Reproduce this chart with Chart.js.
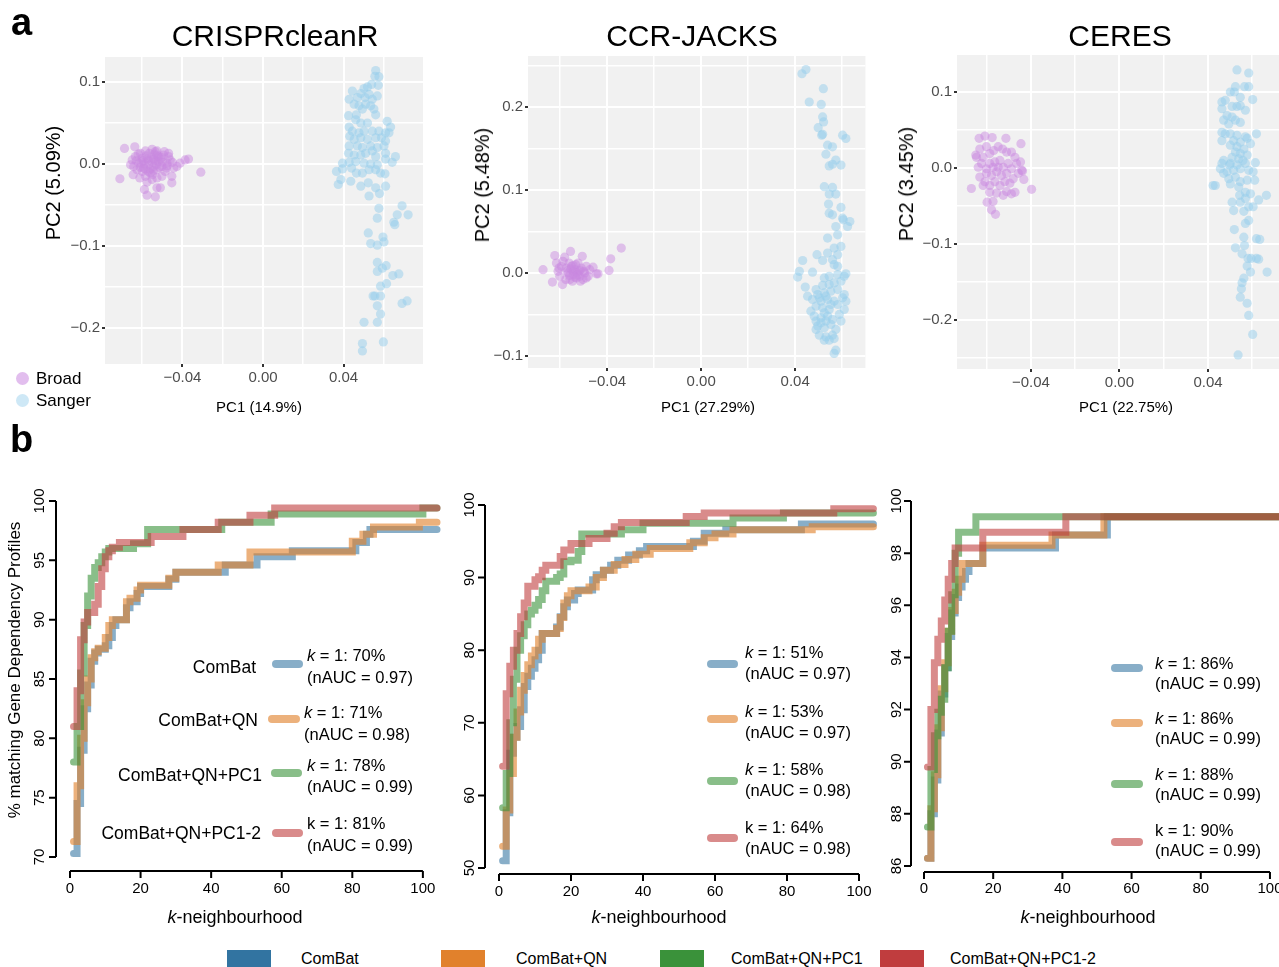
<!DOCTYPE html>
<html>
<head>
<meta charset="utf-8">
<title>PCA and k-neighbourhood matching</title>
<script src="https://cdn.jsdelivr.net/npm/chart.js@4.4.1/dist/chart.umd.min.js"></script>
<style>
  html, body { margin: 0; padding: 0; background: #fff; }
  body { position: relative; width: 1279px; height: 967px; overflow: hidden;
         font-family: "Liberation Sans", Arial, Helvetica, sans-serif; color: #000; }
  canvas { position: absolute; }
  .lbl { position: absolute; white-space: nowrap; line-height: 1; }
  .seg { position: absolute; height: 8px; border-radius: 4px; }
  .box { position: absolute; width: 44px; height: 20px; top: 950px; }
  .dot { position: absolute; width: 13px; height: 13px; border-radius: 50%; }
</style>
</head>
<body>
<canvas id="pcaCrispr" width="430" height="380" style="left:0;top:40px"></canvas>
<canvas id="pcaJacks" width="440" height="380" style="left:430px;top:40px"></canvas>
<canvas id="pcaCeres" width="420" height="380" style="left:870px;top:40px"></canvas>
<canvas id="knnCrispr" width="445" height="450" style="left:0;top:480px"></canvas>
<canvas id="knnJacks" width="440" height="450" style="left:440px;top:480px"></canvas>
<canvas id="knnCeres" width="420" height="450" style="left:870px;top:480px"></canvas>

<script>
// ---- panel a : PCA points (PC1, PC2) ----
var crisprBroad = [[-0.0688,0.019],[-0.0637,0.021],[-0.0711,-0.018],[-0.0309,-0.010],[-0.037,0.006],[-0.0387,0.005],[-0.0412,0.001],[-0.0444,-0.005],[-0.0453,-0.015],[-0.0453,-0.023],[-0.051,-0.029],[-0.0527,-0.029],[-0.0576,-0.038],[-0.0535,-0.040],[-0.0589,-0.031],[-0.0576,-0.022],[-0.0612,-0.017],[-0.0645,-0.013],[-0.0658,-0.001],[-0.065,0.005],[-0.0634,0.009],[-0.0609,0.013],[-0.0584,0.016],[-0.0551,0.018],[-0.0527,0.016],[-0.0494,0.011],[-0.0469,0.009],[-0.0477,0.001],[-0.0502,-0.003],[-0.0527,-0.007],[-0.056,-0.011],[-0.0593,-0.005],[-0.0617,0.001],[-0.0576,0.006],[-0.0543,0.006],[-0.0519,0.003],[-0.0568,-0.001],[-0.0543,-0.003],[-0.0601,0.007],[-0.051,0.006],[-0.0461,0.005],[-0.0428,-0.003],[-0.0486,-0.009],[-0.0527,-0.017],[-0.0551,-0.019],[-0.0502,-0.015],[-0.0626,-0.007],[-0.0642,-0.003],[-0.0584,-0.015],[-0.0469,0.013],[-0.055,0.002],[-0.057,0.004],[-0.053,-0.001],[-0.059,0.000],[-0.056,-0.006],[-0.052,0.009],[-0.05,0.002],[-0.058,0.010],[-0.061,-0.004],[-0.054,0.012],[-0.048,-0.005],[-0.06,-0.009],[-0.055,-0.013],[-0.063,0.004],[-0.049,0.015],[-0.062,0.012],[-0.045,0.002],[-0.057,-0.009],[-0.0535,0.004],[-0.0555,0.008],[-0.0515,-0.004],[-0.0565,0.013],[-0.0525,0.011],[-0.0595,0.004],[-0.0545,-0.008],[-0.0505,0.008],[-0.0585,-0.006],[-0.0475,-0.002],[-0.0605,0.002],[-0.0535,0.015]];
var crisprSanger = [[0.056,0.114],[0.0576,0.1065],[0.0556,0.107],[0.054,0.097],[0.0573,0.096],[0.0519,0.094],[0.0502,0.092],[0.0486,0.086],[0.0444,0.089],[0.0469,0.081],[0.0507,0.081],[0.0527,0.085],[0.0543,0.079],[0.0568,0.083],[0.0428,0.079],[0.0453,0.073],[0.0477,0.071],[0.051,0.073],[0.0535,0.071],[0.0551,0.067],[0.0494,0.067],[0.056,0.060],[0.0425,0.059],[0.0464,0.060],[0.0461,0.054],[0.0486,0.050],[0.0519,0.050],[0.0617,0.052],[0.0634,0.045],[0.0428,0.045],[0.0444,0.040],[0.0477,0.038],[0.0502,0.040],[0.0543,0.040],[0.0576,0.040],[0.0609,0.038],[0.0626,0.038],[0.0431,0.034],[0.0453,0.030],[0.0486,0.032],[0.0519,0.030],[0.056,0.032],[0.0589,0.032],[0.0609,0.028],[0.0428,0.022],[0.0469,0.022],[0.0494,0.020],[0.0535,0.022],[0.0568,0.020],[0.0601,0.022],[0.0425,0.013],[0.0453,0.011],[0.0486,0.011],[0.051,0.013],[0.0543,0.016],[0.056,0.009],[0.0609,0.013],[0.0658,0.009],[0.0395,0.001],[0.0428,0.002],[0.0461,0.003],[0.0502,0.001],[0.0535,0.000],[0.0568,-0.001],[0.0609,0.006],[0.0642,0.002],[0.0365,-0.009],[0.0395,-0.006],[0.044,-0.005],[0.0464,-0.011],[0.0494,-0.011],[0.0527,-0.007],[0.056,-0.007],[0.0584,-0.011],[0.0606,-0.012],[0.0387,-0.019],[0.0436,-0.021],[0.0486,-0.027],[0.0523,-0.023],[0.056,-0.029],[0.0579,-0.036],[0.0609,-0.027],[0.0374,-0.025],[0.0527,-0.039],[0.0576,-0.054],[0.0568,-0.066],[0.0691,-0.051],[0.0721,-0.062],[0.0667,-0.062],[0.065,-0.071],[0.0655,-0.074],[0.0523,-0.084],[0.0535,-0.097],[0.0568,-0.099],[0.0596,-0.089],[0.0601,-0.095],[0.0568,-0.120],[0.0612,-0.124],[0.0593,-0.127],[0.0568,-0.131],[0.0645,-0.136],[0.0675,-0.134],[0.0614,-0.146],[0.0584,-0.149],[0.0547,-0.161],[0.0556,-0.161],[0.0584,-0.161],[0.0568,-0.173],[0.0584,-0.183],[0.0502,-0.193],[0.0568,-0.193],[0.0691,-0.170],[0.0716,-0.167],[0.0598,-0.217],[0.0494,-0.219],[0.0494,-0.228]];

var jacksBroad = [[-0.0673,0.004],[-0.0633,-0.011],[-0.0623,0.021],[-0.0616,0.012],[-0.0609,0.002],[-0.0602,-0.004],[-0.059,-0.014],[-0.0588,0.014],[-0.0581,0.019],[-0.0573,0.006],[-0.0566,0],[-0.0559,-0.008],[-0.0556,0.026],[-0.0552,0.008],[-0.0545,-0.002],[-0.0538,0.004],[-0.0531,-0.006],[-0.0524,0.012],[-0.052,0.002],[-0.0517,-0.004],[-0.051,0.006],[-0.0506,0.020],[-0.0503,-0.008],[-0.0496,0],[-0.0489,0.008],[-0.0481,-0.004],[-0.0474,0.004],[-0.046,0.007],[-0.0446,-0.001],[-0.0439,-0.001],[-0.0392,0.003],[-0.0385,0.017],[-0.034,0.030],[-0.0595,0.008],[-0.0562,0.012],[-0.0534,0.010],[-0.0514,-0.010],[-0.0576,-0.008],[-0.0548,-0.010],[-0.0489,-0.006],[-0.0605,0.006],[-0.0545,0.002],[-0.053,0.000],[-0.056,-0.003],[-0.0515,0.003],[-0.0555,0.005],[-0.0525,-0.002],[-0.0538,-0.005],[-0.057,0.002],[-0.05,0.002],[-0.0545,0.009]];
var jacksSanger = [[0.0429,0.240],[0.0446,0.245],[0.052,0.222],[0.046,0.206],[0.0511,0.203],[0.0517,0.188],[0.0521,0.182],[0.0498,0.175],[0.0517,0.167],[0.0513,0.166],[0.0538,0.154],[0.0559,0.152],[0.0602,0.166],[0.0616,0.162],[0.0531,0.143],[0.0573,0.136],[0.0545,0.129],[0.0559,0.131],[0.0595,0.130],[0.0524,0.104],[0.0559,0.103],[0.0573,0.095],[0.0545,0.095],[0.0542,0.083],[0.0595,0.079],[0.0545,0.072],[0.0559,0.070],[0.0602,0.066],[0.0605,0.064],[0.0633,0.062],[0.0623,0.056],[0.0573,0.056],[0.0538,0.042],[0.0581,0.046],[0.0566,0.030],[0.0595,0.032],[0.0581,0.022],[0.0538,0.024],[0.0493,0.022],[0.0559,0.016],[0.0432,0.015],[0.0517,0.015],[0.0566,0.010],[0.0581,0.008],[0.0418,0.002],[0.0411,-0.005],[0.0474,0.001],[0.0524,-0.006],[0.0545,-0.004],[0.0581,-0.002],[0.0616,-0.001],[0.0609,-0.004],[0.0443,-0.017],[0.0453,-0.028],[0.0489,-0.020],[0.0517,-0.015],[0.0545,-0.014],[0.0566,-0.012],[0.0595,-0.010],[0.0496,-0.026],[0.0524,-0.024],[0.0552,-0.022],[0.0581,-0.020],[0.0609,-0.026],[0.0616,-0.034],[0.0474,-0.032],[0.051,-0.034],[0.0538,-0.032],[0.0566,-0.034],[0.0602,-0.030],[0.0467,-0.046],[0.0489,-0.040],[0.0517,-0.042],[0.0545,-0.044],[0.0581,-0.038],[0.0609,-0.044],[0.0489,-0.058],[0.051,-0.054],[0.0538,-0.052],[0.0559,-0.056],[0.0588,-0.050],[0.0496,-0.064],[0.0524,-0.066],[0.0552,-0.062],[0.0573,-0.068],[0.0503,-0.075],[0.0531,-0.077],[0.0559,-0.075],[0.0524,-0.081],[0.0545,-0.081],[0.0566,-0.079],[0.0573,-0.093],[0.0566,-0.097],[0.051,-0.060],[0.0481,-0.052],[0.0531,-0.058],[0.0489,-0.068],[0.0595,-0.058],[0.0524,-0.048],[0.0552,-0.038],[0.0503,-0.030],[0.0531,-0.028]];

var ceresBroad = [[-0.0669,-0.027],[-0.0649,0.017],[-0.0634,0.039],[-0.0608,0.042],[-0.0575,0.040],[-0.0513,0.039],[-0.0445,0.032],[-0.0438,-0.004],[-0.0432,-0.015],[-0.0397,-0.028],[-0.0472,-0.032],[-0.0488,-0.034],[-0.051,-0.031],[-0.0525,-0.036],[-0.0555,-0.033],[-0.0571,-0.044],[-0.0586,-0.032],[-0.0598,-0.045],[-0.0578,-0.055],[-0.056,-0.061],[-0.0631,0.025],[-0.0616,0.014],[-0.0601,0.028],[-0.0586,0.019],[-0.0568,0.023],[-0.0548,0.028],[-0.0528,0.025],[-0.051,0.021],[-0.0488,0.021],[-0.0472,0.014],[-0.0465,0.006],[-0.0447,0.008],[-0.0442,-0.003],[-0.0457,-0.007],[-0.048,-0.014],[-0.0495,-0.020],[-0.0518,-0.018],[-0.054,-0.023],[-0.0563,-0.018],[-0.0586,-0.023],[-0.0608,-0.018],[-0.0631,-0.012],[-0.0638,0.001],[-0.0623,0.006],[-0.0601,-0.001],[-0.0586,0.006],[-0.0563,0.008],[-0.054,0.010],[-0.0525,0.001],[-0.0503,0.006],[-0.0488,-0.001],[-0.051,-0.007],[-0.0533,-0.010],[-0.0555,-0.005],[-0.0578,-0.010],[-0.0601,-0.007],[-0.0646,0.014],[-0.0616,-0.023],[-0.0548,0.001],[-0.0571,0.001]];
var ceresSanger = [[0.0531,0.129],[0.0584,0.125],[0.0524,0.107],[0.0565,0.107],[0.0584,0.107],[0.0501,0.100],[0.0519,0.100],[0.0546,0.093],[0.0602,0.090],[0.0463,0.087],[0.0478,0.089],[0.0509,0.081],[0.0531,0.081],[0.0546,0.082],[0.0569,0.076],[0.0463,0.078],[0.0486,0.069],[0.0509,0.067],[0.0471,0.063],[0.0494,0.058],[0.0524,0.063],[0.0546,0.060],[0.0463,0.047],[0.0478,0.045],[0.0501,0.045],[0.0531,0.043],[0.0569,0.041],[0.0619,0.045],[0.0463,0.036],[0.0516,0.036],[0.0546,0.034],[0.0577,0.039],[0.0592,0.032],[0.0501,0.030],[0.0531,0.028],[0.0562,0.025],[0.0524,0.021],[0.0546,0.019],[0.0577,0.017],[0.0509,0.014],[0.0539,0.012],[0.0471,0.010],[0.0463,0.006],[0.0501,0.006],[0.0531,0.004],[0.0569,0.006],[0.0614,0.007],[0.0456,-0.001],[0.0486,-0.005],[0.0516,-0.003],[0.0546,-0.001],[0.0584,-0.003],[0.0604,-0.005],[0.0433,-0.023],[0.0471,-0.007],[0.0494,-0.014],[0.0524,-0.012],[0.0546,-0.018],[0.0577,-0.016],[0.0611,-0.016],[0.0501,-0.021],[0.0539,-0.025],[0.0569,-0.032],[0.0592,-0.034],[0.0629,-0.042],[0.0664,-0.036],[0.0509,-0.045],[0.0546,-0.045],[0.0584,-0.051],[0.0604,-0.051],[0.0516,-0.056],[0.0562,-0.057],[0.0584,-0.069],[0.0569,-0.073],[0.0519,-0.081],[0.0562,-0.091],[0.0619,-0.093],[0.0634,-0.094],[0.0524,-0.105],[0.0565,-0.102],[0.0554,-0.113],[0.0581,-0.119],[0.0595,-0.119],[0.0619,-0.119],[0.0629,-0.120],[0.0577,-0.129],[0.0592,-0.137],[0.0667,-0.137],[0.0562,-0.145],[0.0554,-0.151],[0.0551,-0.159],[0.0546,-0.170],[0.0577,-0.178],[0.0584,-0.194],[0.0602,-0.219],[0.0536,-0.246],[0.0423,-0.023],[0.0543,-0.036],[0.0569,-0.040],[0.0498,0.004],[0.0558,0.010]];

// tick values and labels, panel a
var pc1Ticks = [-0.04, 0, 0.04];
var pc1Labels = ['\u22120.04', '0.00', '0.04'];
var pc2TicksA = [0.1, 0, -0.1, -0.2];
var pc2LabelsA = ['0.1', '0.0', '\u22120.1', '\u22120.2'];
var pc2TicksB = [0.2, 0.1, 0, -0.1];
var pc2LabelsB = ['0.2', '0.1', '0.0', '\u22120.1'];

// ---- panel b : % matching profiles vs k (k, value) at each step ----
var crisprComBat = [[1,70.3],[2,74.5],[3,79],[4,82.5],[5,84.5],[6,86.5],[7,87.2],[8,87.5],[10,87.8],[11,88.5],[12,89.5],[13,90],[16,91],[17,91.5],[19,92.2],[20,92.8],[28,93.4],[30,94],[44,94.6],[53,95.3],[63,95.8],[81,96.5],[84,97.2],[85,97.6],[104,97.6]];
var crisprQN = [[1,71.3],[2,76],[3,80],[4,83],[5,85],[6,86.8],[7,87.3],[8,87.6],[10,88.5],[11,89.5],[12,90],[16,91.5],[17,91.8],[19,92.5],[20,92.9],[28,93.5],[30,94],[42,94.6],[51,95.7],[80,96.6],[83,97.2],[86,97.8],[99,98.2],[104,98.2]];
var crisprPC1 = [[1,78],[2,81],[3,85.5],[4,89.5],[5,92],[6,93.5],[7,94.4],[8,94.8],[9,95.3],[10,95.7],[11,96],[18,96.4],[22,97.6],[43,98.2],[57,98.9],[100,99.4],[104,99.4]];
var crisprPC12 = [[1,81],[2,84],[3,88.3],[4,89.8],[5,90.6],[7,91.3],[8,92.8],[9,94.3],[10,95.3],[11,95.8],[12,96.1],[14,96.5],[23,97],[32,97.6],[42,98.2],[51,98.8],[58,99.4],[104,99.4]];

var jacksComBat = [[1,51],[2,57.6],[3,65.8],[4,68],[5,69.5],[6,71.8],[7,75],[8,76.4],[9,77.5],[10,78.7],[11,80],[12,82.3],[16,83.2],[17,84.6],[18,86],[19,86.9],[21,87.8],[22,88.3],[26,89.7],[27,90.4],[29,91],[31,91.7],[33,92.4],[36,93.1],[39,93.7],[41,94.3],[54,95],[57,96.1],[63,96.6],[84,97.4],[104,97.4]];
var jacksQN = [[1,53],[2,58],[3,63],[4,68],[5,71.5],[6,74.5],[7,76.5],[8,78],[9,79.2],[10,80],[11,81.5],[12,82.3],[16,83],[17,84.5],[18,86.5],[19,87.5],[20,88.2],[25,88.7],[27,90],[29,91],[32,91.8],[35,92.5],[38,93.2],[42,94],[53,94.8],[57,95.5],[60,96],[65,96.6],[87,97],[104,97]];
var jacksPC1 = [[1,58.3],[2,63],[3,70],[4,76],[5,80],[6,82],[7,83.5],[8,85],[9,85.5],[10,86.2],[11,87],[12,88.2],[13,89.5],[16,90],[17,90.5],[18,92.2],[20,92.4],[22,93.6],[23,96],[34,96.6],[40,97.5],[65,98.2],[79,98.9],[104,98.9]];
var jacksPC12 = [[1,64],[2,74],[3,77.8],[4,80],[5,82.3],[6,84.6],[7,86.5],[8,88.8],[10,89.7],[11,90.1],[12,91],[13,91.7],[17,92.9],[18,93.8],[20,94.7],[25,95.4],[30,96.1],[32,97],[34,97.6],[52,98.4],[57,98.9],[93,99.5],[104,99.5]];

var ceresComBat = [[1,86.3],[2,88],[3,89.3],[4,91.1],[5,92.6],[6,93.6],[7,94.8],[8,95.7],[9,96.3],[10,96.7],[11,97],[12,97.3],[13,97.6],[17,98.2],[38,98.7],[53,99.4],[104,99.4]];
var ceresQN = [[1,86.3],[2,88.2],[3,89.5],[4,91.3],[5,92.8],[6,93.8],[7,95],[8,95.8],[9,96.5],[10,97],[11,97.6],[17,98.3],[37,98.7],[52,99.4],[104,99.4]];
var ceresPC1 = [[1,87.5],[2,89.7],[3,91],[4,91.9],[5,92.4],[6,93.6],[7,95],[8,96.4],[9,98],[10,98.8],[15,99.4],[104,99.4]];
var ceresPC12 = [[1,89.8],[2,92],[3,93.8],[4,94.7],[5,95.4],[6,96.2],[7,97],[8,97.6],[9,98.2],[17,98.8],[41,99.4],[104,99.4]];

var kTicks = [0, 20, 40, 60, 80, 100];
var pctTicksCrispr = [70, 75, 80, 85, 90, 95, 100];
var pctTicksJacks = [50, 60, 70, 80, 90, 100];
var pctTicksCeres = [86, 88, 90, 92, 94, 96, 98, 100];

var methods = ['ComBat', 'ComBat+QN', 'ComBat+QN+PC1', 'ComBat+QN+PC1-2'];
var statsCrispr = [['70%', '0.97'], ['71%', '0.98'], ['78%', '0.99'], ['81%', '0.99']];
var statsJacks = [['51%', '0.97'], ['53%', '0.97'], ['58%', '0.98'], ['64%', '0.98']];
var statsCeres = [['86%', '0.99'], ['86%', '0.99'], ['88%', '0.99'], ['90%', '0.99']];

var solidColors = ['#3274a1', '#e1812c', '#3a923a', '#c03d3e'];
var lineColors = ['rgba(50,116,161,0.58)', 'rgba(225,129,44,0.62)', 'rgba(58,146,58,0.6)', 'rgba(192,61,62,0.6)'];
var broadColor = 'rgba(200,136,224,0.48)';
var sangerColor = 'rgba(150,206,236,0.5)';

Chart.defaults.font.family = '"Liberation Sans", Arial, Helvetica, sans-serif';

function near(list) {
  return function (v) { return list.some(function (t) { return Math.abs(t - v) < 1e-9; }); };
}
function labelOf(vals, labels) {
  return function (v) {
    var i = vals.findIndex(function (t) { return Math.abs(t - v) < 1e-9; });
    return i < 0 ? '' : labels[i];
  };
}

// grey panel background (ggplot look)
var panelBg = {
  id: 'panelBg',
  beforeDraw: function (chart) {
    var a = chart.chartArea, c = chart.ctx;
    c.save();
    c.fillStyle = '#f1f1f1';
    c.fillRect(a.left, a.top, a.right - a.left, a.bottom - a.top);
    c.restore();
  }
};

function pcaPanel(id, broad, sanger, xr, yr, yTicks, yLabels, box) {
  var xMajor = near(pc1Ticks), yMajor = near(yTicks);
  function axis(major, step, vals, labels, isX, fitSize) {
    return {
      type: 'linear', min: isX ? xr[0] : yr[0], max: isX ? xr[1] : yr[1],
      afterFit: function (s) { if (isX) s.height = fitSize; else s.width = fitSize; },
      ticks: {
        stepSize: step, includeBounds: false, autoSkip: false, maxRotation: 0, minRotation: 0,
        padding: 2, color: '#4d4d4d', font: { size: 15 },
        callback: labelOf(vals, labels)
      },
      grid: {
        color: '#ffffff',
        lineWidth: function (c) { return major(c.tick.value) ? 2 : 1.5; },
        tickLength: 3, tickWidth: 2,
        tickColor: function (c) { return major(c.tick.value) ? '#333333' : 'rgba(0,0,0,0)'; }
      },
      border: { display: false }
    };
  }
  new Chart(document.getElementById(id), {
    type: 'scatter',
    data: {
      datasets: [
        { data: broad.map(function (p) { return { x: p[0], y: p[1] }; }), backgroundColor: broadColor, borderWidth: 0, pointRadius: 4.6 },
        { data: sanger.map(function (p) { return { x: p[0], y: p[1] }; }), backgroundColor: sangerColor, borderWidth: 0, pointRadius: 4.6 }
      ]
    },
    options: {
      responsive: false, animation: false, events: [],
      layout: { padding: { left: 0, top: box.top, right: box.right, bottom: 0 } },
      plugins: { legend: { display: false }, tooltip: { enabled: false } },
      scales: {
        x: axis(xMajor, 0.02, pc1Ticks, pc1Labels, true, box.xh),
        y: axis(yMajor, 0.05, yTicks, yLabels, false, box.yw)
      }
    },
    plugins: [panelBg]
  });
}

pcaPanel('pcaCrispr', crisprBroad, crisprSanger, [-0.0785, 0.0795], [-0.2439, 0.1305], pc2TicksA, pc2LabelsA, { top: 17, right: 7, xh: 56, yw: 105 });
pcaPanel('pcaJacks', jacksBroad, jacksSanger, [-0.0737, 0.0699], [-0.1145, 0.2614], pc2TicksB, pc2LabelsB, { top: 16, right: 3, xh: 52, yw: 98 });
pcaPanel('pcaCeres', ceresBroad, ceresSanger, [-0.0734, 0.0748], [-0.2645, 0.1487], pc2TicksA, pc2LabelsA, { top: 15, right: 5, xh: 51, yw: 87 });

// R base-graphics style axes, detached from the plotting region
function baseAxes(cfg) {
  return {
    id: 'baseAxes',
    beforeDatasetsDraw: function (chart) {
      var c = chart.ctx, xs = chart.scales.x, ys = chart.scales.y, a = chart.chartArea;
      var ax = a.left - cfg.yGap, ay = a.bottom + cfg.xGap;
      c.save();
      c.strokeStyle = '#000'; c.fillStyle = '#000'; c.lineWidth = 2;
      c.beginPath();
      c.moveTo(ax, ys.getPixelForValue(cfg.yTicks[0]));
      c.lineTo(ax, ys.getPixelForValue(cfg.yTicks[cfg.yTicks.length - 1]));
      cfg.yTicks.forEach(function (v) { var y = ys.getPixelForValue(v); c.moveTo(ax, y); c.lineTo(ax - 7, y); });
      c.moveTo(xs.getPixelForValue(kTicks[0]), ay);
      c.lineTo(xs.getPixelForValue(kTicks[kTicks.length - 1]), ay);
      kTicks.forEach(function (v) { var x = xs.getPixelForValue(v); c.moveTo(x, ay); c.lineTo(x, ay + 7); });
      c.stroke();
      c.font = '15px "Liberation Sans", Arial, sans-serif';
      c.textAlign = 'center'; c.textBaseline = 'middle';
      cfg.yTicks.forEach(function (v) {
        c.save();
        c.translate(ax - cfg.yLab, ys.getPixelForValue(v));
        c.rotate(-Math.PI / 2);
        c.fillText(String(v), 0, 0);
        c.restore();
      });
      kTicks.forEach(function (v) { c.fillText(String(v), xs.getPixelForValue(v), ay + cfg.xLab); });
      c.restore();
    }
  };
}

function knnPanel(id, series, yTicks, box) {
  new Chart(document.getElementById(id), {
    type: 'line',
    data: {
      datasets: series.map(function (s, i) {
        return {
          data: s.map(function (p) { return { x: p[0], y: p[1] }; }),
          borderColor: lineColors[i], borderWidth: 7, stepped: 'before',
          pointRadius: 0, fill: false, clip: false, order: 4 - i,
          borderCapStyle: 'round'
        };
      })
    },
    options: {
      responsive: false, animation: false, events: [],
      layout: { padding: box.pad },
      plugins: { legend: { display: false }, tooltip: { enabled: false } },
      scales: {
        x: { type: 'linear', display: false, min: 0, max: 104 },
        y: { type: 'linear', display: false, min: yTicks[0], max: yTicks[yTicks.length - 1] }
      }
    },
    plugins: [baseAxes({ yTicks: yTicks, yGap: box.yGap, yLab: box.yLab, xGap: box.xGap, xLab: box.xLab })]
  });
}

knnPanel('knnCrispr', [crisprComBat, crisprQN, crisprPC1, crisprPC12], pctTicksCrispr,
  { pad: { left: 70, top: 21, right: 8, bottom: 73 }, yGap: 14, yLab: 16, xGap: 14, xLab: 18 });
knnPanel('knnJacks', [jacksComBat, jacksQN, jacksPC1, jacksPC12], pctTicksJacks,
  { pad: { left: 59, top: 25, right: 6.6, bottom: 62 }, yGap: 14, yLab: 15, xGap: 6, xLab: 18 });
knnPanel('knnCeres', [ceresComBat, ceresQN, ceresPC1, ceresPC12], pctTicksCeres,
  { pad: { left: 54, top: 21, right: 6.2, bottom: 64 }, yGap: 13, yLab: 14, xGap: 6, xLab: 17 });

// ---- text ----
function addText(html, x, y, size, align, extra) {
  var d = document.createElement('div');
  d.className = 'lbl';
  d.innerHTML = html;
  d.style.fontSize = size + 'px';
  d.style.left = x + 'px';
  d.style.top = y + 'px';
  var tf = align === 'center' ? 'translate(-50%,-50%)' : align === 'right' ? 'translate(-100%,-50%)' : 'translate(0,-50%)';
  if (extra && extra.rotate) tf = 'translate(-50%,-50%) rotate(-90deg)';
  if (extra && extra.bold) d.style.fontWeight = 'bold';
  d.style.transform = tf;
  document.body.appendChild(d);
}

addText('a', 11, 22, 38, 'left', { bold: true });
addText('b', 10, 439, 38, 'left', { bold: true });

addText('CRISPRcleanR', 275, 36, 30, 'center');
addText('CCR-JACKS', 692, 36, 30, 'center');
addText('CERES', 1120, 36, 30, 'center');

addText('PC2 (5.09%)', 53, 183, 20, 'center', { rotate: true });
addText('PC2 (5.48%)', 482, 185, 20, 'center', { rotate: true });
addText('PC2 (3.45%)', 906, 184, 20, 'center', { rotate: true });
addText('PC1 (14.9%)', 259, 406, 15, 'center');
addText('PC1 (27.29%)', 708, 406, 15, 'center');
addText('PC1 (22.75%)', 1126, 406, 15, 'center');

// group legend of panel a
[['Broad', 'rgb(226,190,238)', 378], ['Sanger', 'rgb(206,232,246)', 400]].forEach(function (g) {
  var dot = document.createElement('div');
  dot.className = 'dot';
  dot.style.background = g[1];
  dot.style.left = (22 - 6.5) + 'px';
  dot.style.top = (g[2] - 6.5) + 'px';
  document.body.appendChild(dot);
  addText(g[0], 36, g[2], 17, 'left');
});

addText('% matching Gene Dependency Profiles', 14, 670, 17, 'center', { rotate: true });
addText('<i>k</i>-neighbourhood', 235, 917, 18, 'center');
addText('<i>k</i>-neighbourhood', 659, 917, 18, 'center');
addText('<i>k</i>-neighbourhood', 1088, 917, 18, 'center');

function statLines(stats, i) {
  var k = i < 3 ? '<i>k</i>' : 'k';
  return [k + ' = 1: ' + stats[i][0], '(nAUC = ' + stats[i][1] + ')'];
}
function addSeg(color, x0, x1, y) {
  var s = document.createElement('div');
  s.className = 'seg';
  s.style.background = color;
  s.style.left = x0 + 'px';
  s.style.width = (x1 - x0) + 'px';
  s.style.top = (y - 4) + 'px';
  document.body.appendChild(s);
}

// panel b1 keys (method names on the left of the colour strokes)
var keyCrispr = [
  { nameX: 256, nameY: 668, seg: [272, 303, 664], tx: 307, ty: [655, 677] },
  { nameX: 258, nameY: 721, seg: [268, 300, 719], tx: 304, ty: [712, 734] },
  { nameX: 262, nameY: 776, seg: [271, 302, 773], tx: 307, ty: [765, 786] },
  { nameX: 261, nameY: 834, seg: [272, 303, 833], tx: 307, ty: [823, 845] }
];
keyCrispr.forEach(function (r, i) {
  addText(methods[i], r.nameX, r.nameY, 17.5, 'right');
  addSeg(lineColors[i], r.seg[0], r.seg[1], r.seg[2]);
  var l = statLines(statsCrispr, i);
  addText(l[0], r.tx, r.ty[0], 16.5, 'left');
  addText(l[1], r.tx, r.ty[1], 16.5, 'left');
});

var keyJacks = { seg: [707, 738], segY: [664, 719, 781, 838], tx: 745, ty: [[652, 673], [711, 732], [769, 790], [827, 848]] };
var keyCeres = { seg: [1111, 1143], segY: [668, 723, 784, 842], tx: 1155, ty: [[663, 683], [718, 738], [774, 794], [830, 850]] };
[[keyJacks, statsJacks], [keyCeres, statsCeres]].forEach(function (p) {
  var key = p[0];
  for (var i = 0; i < 4; i++) {
    addSeg(lineColors[i], key.seg[0], key.seg[1], key.segY[i]);
    var l = statLines(p[1], i);
    addText(l[0], key.tx, key.ty[i][0], 16.5, 'left');
    addText(l[1], key.tx, key.ty[i][1], 16.5, 'left');
  }
});

// bottom legend
var legendBoxX = [227, 441, 660, 880];
var legendTextX = [301, 516, 731, 950];
methods.forEach(function (m, i) {
  var b = document.createElement('div');
  b.className = 'box';
  b.style.left = legendBoxX[i] + 'px';
  b.style.background = solidColors[i];
  document.body.appendChild(b);
  addText(m, legendTextX[i], 959, 16, 'left');
});
</script>
</body>
</html>
